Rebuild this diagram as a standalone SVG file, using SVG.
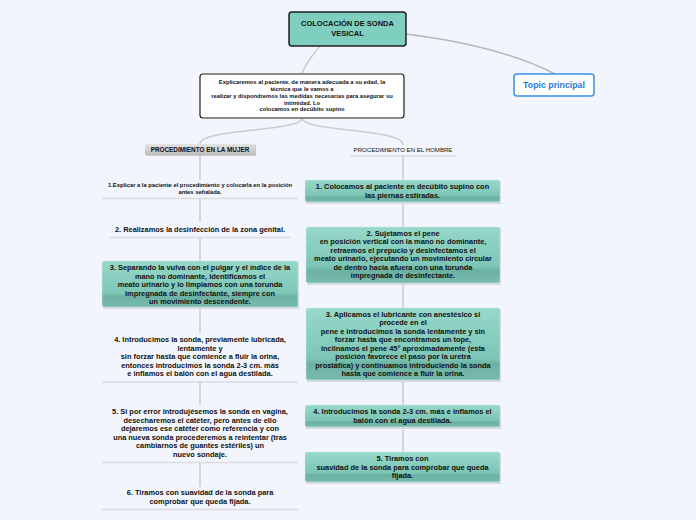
<svg xmlns="http://www.w3.org/2000/svg" width="696" height="520" viewBox="0 0 696 520">
<defs>
<linearGradient id="teal" x1="0" y1="0" x2="0" y2="1">
<stop offset="0" stop-color="#97d8ca"/>
<stop offset="0.7" stop-color="#7cc6b6"/>
<stop offset="0.78" stop-color="#6bb0a2"/>
<stop offset="1" stop-color="#78bcae"/>
</linearGradient>
<linearGradient id="grey" x1="0" y1="0" x2="0" y2="1">
<stop offset="0" stop-color="#e4e4e4"/>
<stop offset="1" stop-color="#bdbdbd"/>
</linearGradient>
</defs>
<style>
text{font-family:"Liberation Sans",Arial,sans-serif;font-weight:bold;fill:#111;text-anchor:middle}
.t7{font-size:7.4px}
.t5{font-size:5.8px}
.c{fill:none;stroke:#c9ccd6;stroke-width:1.5}
.u{stroke:#d9dce4;stroke-width:1.5}
.box{fill:url(#teal);stroke:#cfe9e3;stroke-width:0.5}
.sh{fill:#d6d9e0}
</style>
<rect width="696" height="520" fill="#f3f5fd"/>
<g id="connectors">
<path class="c" d="M320,46 C312,56 305,64 302,74" stroke="#b9bcc6"/>
<path d="M406,34 C470,42 520,56 555,74" fill="none" stroke="#b4b6bd" stroke-width="1.5"/>
<path class="c" d="M302,118 C302,132 200,128 200,144"/>
<path class="c" d="M302,118 C302,132 403,128 403,145"/>
<path class="c" d="M200,155 V180 M200,198 V222 M200,237 V261 M200,307 V333 M200,382 V405 M200,462 V487"/>
<path class="c" d="M403,155 V180 M403,202 V227 M403,283 V308 M403,380 V405 M403,427 V452"/>
</g>
<g id="root">
<rect x="289" y="12" width="117" height="34" rx="3" fill="#7ecfc0" stroke="#1f1f1f" stroke-width="1.5"/>
<text x="347.5" y="26" font-size="7.5px">COLOCACIÓN DE SONDA</text>
<text x="347.5" y="36" font-size="7.5px">VESICAL</text>
</g>
<g id="topic">
<rect x="514" y="74" width="80" height="22" rx="3" fill="#fff" stroke="#3a8ee6" stroke-width="1.5"/>
<text x="554" y="88" font-size="8.8px" style="fill:#1f7ad8">Topic principal</text>
</g>
<g id="intro">
<rect x="200" y="74" width="204" height="44" rx="3" fill="#fff" stroke="#1f1f1f" stroke-width="1.2"/>
<text class="t5" x="302" y="84">Explicaremos al paciente, de manera adecuada a su edad, la</text>
<text class="t5" x="302" y="91">técnica que le vamos a</text>
<text class="t5" x="302" y="98">realizar y dispondremos las medidas necesarias para asegurar su</text>
<text class="t5" x="302" y="104.5">intimidad. Lo</text>
<text class="t5" x="302" y="111">colocamos en decúbito supino</text>
</g>
<g id="mujer">
<rect x="146" y="145" width="110" height="11" fill="#c9c9c9"/>
<rect x="145" y="144" width="110" height="11" fill="url(#grey)"/>
<text x="200" y="152" font-size="6.4px">PROCEDIMIENTO EN LA MUJER</text>
</g>
<g id="hombre">
<text x="403" y="152" font-size="6.1px" style="font-weight:normal">PROCEDIMIENTO EN EL HOMBRE</text>
<line class="u" x1="350" y1="156" x2="456" y2="156"/>
</g>
<g id="m1">
<text class="t5" x="200" y="187">1.Explicar a la paciente el procedimiento y colocarla en la posición</text>
<text class="t5" x="200" y="193.5">antes señalada.</text>
<line class="u" x1="102" y1="198.5" x2="298" y2="198.5"/>
</g>
<g id="m2">
<text class="t7" x="200" y="232">2. Realizamos la desinfección de la zona genital.</text>
<line class="u" x1="110" y1="237.5" x2="291" y2="237.5"/>
</g>
<g id="m3">
<rect class="sh" x="103" y="262" width="196" height="47"/>
<rect class="box" x="102" y="261" width="196" height="46" rx="2"/>
<text class="t7" x="200" y="270">3. Separando la vulva con el pulgar y el índice de la</text>
<text class="t7" x="200" y="278.5">mano no dominante, identificamos el</text>
<text class="t7" x="200" y="287">meato urinario y lo limpiamos con una torunda</text>
<text class="t7" x="200" y="295.5">impregnada de desinfectante, siempre con</text>
<text class="t7" x="200" y="304">un movimiento descendente.</text>
</g>
<g id="m4">
<text class="t7" x="200" y="342">4. Introducimos la sonda, previamente lubricada,</text>
<text class="t7" x="200" y="350.5">lentamente y</text>
<text class="t7" x="200" y="359">sin forzar hasta que comience a fluir la orina,</text>
<text class="t7" x="200" y="367.5">entonces introducimos la sonda 2-3 cm. más</text>
<text class="t7" x="200" y="376">e inflamos el balón con el agua destilada.</text>
<line class="u" x1="102" y1="382" x2="298" y2="382"/>
</g>
<g id="m5">
<text class="t7" x="200" y="414">5. Si por error introdujésemos la sonda en vagina,</text>
<text class="t7" x="200" y="422.5">desecharemos el catéter, pero antes de ello</text>
<text class="t7" x="200" y="431">dejaremos ese catéter como referencia y con</text>
<text class="t7" x="200" y="439.5">una nueva sonda procederemos a reintentar (tras</text>
<text class="t7" x="200" y="448">cambiarnos de guantes estériles) un</text>
<text class="t7" x="200" y="456.5">nuevo sondaje.</text>
<line class="u" x1="102" y1="462.5" x2="298" y2="462.5"/>
</g>
<g id="m6">
<text class="t7" x="200" y="495">6. Tiramos con suavidad de la sonda para</text>
<text class="t7" x="200" y="503.5">comprobar que queda fijada.</text>
<line class="u" x1="102" y1="509.5" x2="298" y2="509.5"/>
</g>
<g id="h1">
<rect class="sh" x="306" y="181" width="195" height="23"/>
<rect class="box" x="305" y="180" width="195" height="22" rx="2"/>
<text class="t7" x="402.5" y="189">1. Colocamos al paciente en decúbito supino con</text>
<text class="t7" x="402.5" y="197.5">las piernas estiradas.</text>
</g>
<g id="h2">
<rect class="sh" x="307" y="228" width="194" height="57"/>
<rect class="box" x="306" y="227" width="194" height="56" rx="2"/>
<text class="t7" x="403" y="235.5">2. Sujetamos el pene</text>
<text class="t7" x="403" y="244">en posición vertical con la mano no dominante,</text>
<text class="t7" x="403" y="252.5">retraemos el prepucio y desinfectamos el</text>
<text class="t7" x="403" y="261">meato urinario, ejecutando un movimiento circular</text>
<text class="t7" x="403" y="269.5">de dentro hacia afuera con una torunda</text>
<text class="t7" x="403" y="278">impregnada de desinfectante.</text>
</g>
<g id="h3">
<rect class="sh" x="307" y="309" width="194" height="73"/>
<rect class="box" x="306" y="308" width="194" height="72" rx="2"/>
<text class="t7" x="403" y="316.5">3. Aplicamos el lubricante con anestésico si</text>
<text class="t7" x="403" y="325">procede en el</text>
<text class="t7" x="403" y="333.5">pene e introducimos la sonda lentamente y sin</text>
<text class="t7" x="403" y="342">forzar hasta que encontramos un tope,</text>
<text class="t7" x="403" y="350.5">inclinamos el pene 45° aproximadamente (esta</text>
<text class="t7" x="403" y="359">posición favorece el paso por la uretra</text>
<text class="t7" x="403" y="367.5">prostática) y continuamos introduciendo la sonda</text>
<text class="t7" x="403" y="376">hasta que comience a fluir la orina.</text>
</g>
<g id="h4">
<rect class="sh" x="306" y="406" width="195" height="23"/>
<rect class="box" x="305" y="405" width="195" height="22" rx="2"/>
<text class="t7" x="402.5" y="414">4. Introducimos la sonda 2-3 cm. más e inflamos el</text>
<text class="t7" x="402.5" y="422.5">balón con el agua destilada.</text>
</g>
<g id="h5">
<rect class="sh" x="306" y="453" width="195" height="31"/>
<rect class="box" x="305" y="452" width="195" height="30" rx="2"/>
<text class="t7" x="402.5" y="461">5. Tiramos con</text>
<text class="t7" x="402.5" y="469.5">suavidad de la sonda para comprobar que queda</text>
<text class="t7" x="402.5" y="478">fijada.</text>
</g>
</svg>
